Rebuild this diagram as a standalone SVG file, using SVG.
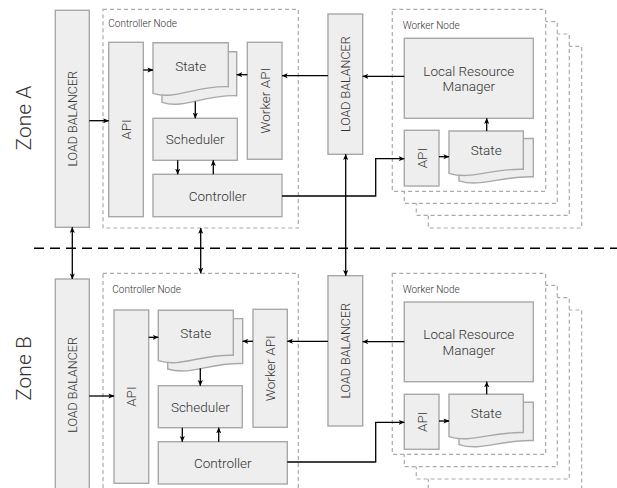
<svg xmlns="http://www.w3.org/2000/svg" width="617" height="488" viewBox="0 0 617 488">
<defs>
<style>
.box{fill:#eeeeee;stroke:#a8a8a8;stroke-width:1.4}
.grp{fill:#ffffff;stroke:#aaaaaa;stroke-width:1.2;stroke-dasharray:4 3}
.t{font-family:Roboto,"Liberation Sans",sans-serif;font-weight:300;fill:#333333;font-size:13.5px;text-anchor:middle;dominant-baseline:central}
.lb{font-size:12.5px}
.small{font-family:Roboto,"Liberation Sans",sans-serif;font-weight:300;fill:#333333;font-size:10px}
.zone{font-family:Roboto,"Liberation Sans",sans-serif;font-weight:300;fill:#333333;font-size:21px;text-anchor:middle;dominant-baseline:central}
.c{fill:none;stroke:#000000;stroke-width:1.3}
.a{marker-end:url(#ah)}
.b{marker-start:url(#ah);marker-end:url(#ah)}
</style>
<marker id="ah" viewBox="0 0 8 8" refX="7.5" refY="4" markerWidth="6" markerHeight="6" markerUnits="userSpaceOnUse" orient="auto-start-reverse">
<path d="M0,0.6 L8,4 L0,7.4 L2,4 z" fill="#000000"/>
</marker>
</defs>
<rect width="617" height="488" fill="#ffffff"/>

<!-- zone labels -->
<text class="zone" transform="translate(24,118) rotate(-90)">Zone A</text>
<text class="zone" transform="translate(24,368.5) rotate(-90)">Zone B</text>

<!-- zone divider -->
<line x1="34" y1="248.3" x2="617" y2="248.3" stroke="#000000" stroke-width="1.5" stroke-dasharray="10 6"/>

<!-- ===== Zone A ===== -->
<g id="lbA">
<rect class="box" x="55.3" y="10.3" width="34" height="217"/>
<text class="t lb" transform="translate(72.3,118.8) rotate(-90)">LOAD BALANCER</text>
</g>
<g id="ctrlNodeA">
<rect class="grp" x="103" y="9.3" width="195.3" height="218.7"/>
<text class="small" x="108.3" y="26.5">Controller Node</text>
</g>
<g id="apiA">
<rect class="box" x="108.7" y="42.3" width="34.6" height="174.4"/>
<text class="t" transform="translate(126,129.5) rotate(-90)">API</text>
</g>
<g id="stateA">
<path class="box" d="M162,51.7 H236.7 V95.7 C203.1,94.7 184.4,109.3 162,102.3 Z"/>
<path class="box" d="M153,42.7 H228.3 V86.7 C194.4,85.7 175.6,100.3 153,93.3 Z"/>
<text class="t" x="190.7" y="65.5">State</text>
</g>
<g id="schedA">
<rect class="box" x="153" y="118.3" width="84.3" height="42"/>
<text class="t" x="195.2" y="139.3">Scheduler</text>
</g>
<g id="workerApiA">
<rect class="box" x="247.3" y="42.3" width="34.7" height="117"/>
<text class="t" transform="translate(264.7,100.8) rotate(-90)">Worker API</text>
</g>
<g id="controllerA">
<rect class="box" x="153" y="174.3" width="129" height="42.4"/>
<text class="t" x="217.5" y="195.5">Controller</text>
</g>
<g id="lbMidA">
<rect class="box" x="328" y="14" width="34.7" height="140.3"/>
<text class="t lb" transform="translate(345.3,84.2) rotate(-90)">LOAD BALANCER</text>
</g>
<g id="workerNodeA">
<rect class="grp" x="428.3" y="46.3" width="153.4" height="181.7"/>
<rect class="grp" x="416.3" y="34" width="153" height="181.3"/>
<rect class="grp" x="404.3" y="21.7" width="153" height="181.6"/>
<rect class="grp" x="392.3" y="9.3" width="153.4" height="182"/>
<text class="small" x="402.7" y="29">Worker Node</text>
</g>
<g id="lrmA">
<rect class="box" x="404.3" y="38.3" width="129" height="80"/>
<text class="t" x="468.8" y="70.5">Local Resource</text>
<text class="t" x="468.8" y="86">Manager</text>
</g>
<g id="wApiA">
<rect class="box" x="404.3" y="130.3" width="34.7" height="55.7"/>
<text class="t" transform="translate(421.7,158.2) rotate(-90)">API</text>
</g>
<g id="wStateA">
<path class="box" d="M459,138.5 H533.3 V176.8 C499.9,175.8 481.3,187.8 459,180.8 Z"/>
<path class="box" d="M449,131 H523.3 V169.3 C489.9,168.3 471.3,180.3 449,173.3 Z"/>
<text class="t" x="486.2" y="149.8">State</text>
</g>

<!-- ===== Zone B ===== -->
<g id="lbB">
<rect class="box" x="55.3" y="279" width="34" height="212"/>
<text class="t lb" transform="translate(72.3,385) rotate(-90)">LOAD BALANCER</text>
</g>
<g id="ctrlNodeB">
<rect class="grp" x="103" y="273.3" width="195.3" height="220"/>
<text class="small" x="112.3" y="292.8">Controller Node</text>
</g>
<g id="apiB">
<rect class="box" x="114" y="310" width="34.7" height="173.3"/>
<text class="t" transform="translate(131.3,396.7) rotate(-90)">API</text>
</g>
<g id="stateB">
<path class="box" d="M167.7,318.6 H242.7 V363.6 C209,362.6 190.2,376 167.7,369 Z"/>
<path class="box" d="M158.3,310.3 H233.3 V355.3 C199.6,354.3 180.8,367.7 158.3,360.7 Z"/>
<text class="t" x="195.8" y="333">State</text>
</g>
<g id="schedB">
<rect class="box" x="158.3" y="385.7" width="84" height="42"/>
<text class="t" x="200.3" y="406.7">Scheduler</text>
</g>
<g id="workerApiB">
<rect class="box" x="253" y="309.3" width="34.3" height="118"/>
<text class="t" transform="translate(270.2,368.3) rotate(-90)">Worker API</text>
</g>
<g id="controllerB">
<rect class="box" x="158.3" y="441.7" width="129" height="42.3"/>
<text class="t" x="222.8" y="462.8">Controller</text>
</g>
<g id="lbMidB">
<rect class="box" x="328" y="275.7" width="34.7" height="150.3"/>
<text class="t lb" transform="translate(345.3,350.8) rotate(-90)">LOAD BALANCER</text>
</g>
<g id="workerNodeB">
<rect class="grp" x="428.3" y="310" width="153.4" height="181"/>
<rect class="grp" x="416.3" y="297.7" width="153" height="181.3"/>
<rect class="grp" x="404.3" y="285.3" width="153" height="181.4"/>
<rect class="grp" x="392.3" y="273.3" width="153.4" height="181"/>
<text class="small" x="402.7" y="292.8">Worker Node</text>
</g>
<g id="lrmB">
<rect class="box" x="404.3" y="302" width="129" height="79.7"/>
<text class="t" x="468.8" y="334.2">Local Resource</text>
<text class="t" x="468.8" y="349.7">Manager</text>
</g>
<g id="wApiB">
<rect class="box" x="404.3" y="394.3" width="34.7" height="55"/>
<text class="t" transform="translate(421.7,421.8) rotate(-90)">API</text>
</g>
<g id="wStateB">
<path class="box" d="M459,402.3 H533.3 V440.6 C499.9,439.6 481.3,451.6 459,444.6 Z"/>
<path class="box" d="M449,394.3 H523.3 V432.6 C489.9,431.6 471.3,443.6 449,436.6 Z"/>
<text class="t" x="486.2" y="413">State</text>
</g>

<!-- ===== Connectors ===== -->
<g id="connectors">
<!-- zone A -->
<path class="c a" d="M89.3,120.7 H108.7"/>
<path class="c a" d="M143.3,70 H153"/>
<path class="c a" d="M247.3,74.7 H236.7"/>
<path class="c a" d="M195.3,101.5 V118.3"/>
<path class="c a" d="M177.7,160.3 V174.3"/>
<path class="c a" d="M213.3,174.3 V160.3"/>
<path class="c a" d="M328,75.7 H282"/>
<path class="c a" d="M404.3,76.3 H362.7"/>
<path class="c a" d="M282,196 H375.7 V158.7 H404.3"/>
<path class="c a" d="M439,156.7 H449"/>
<path class="c a" d="M486.7,131 V118.3"/>
<!-- between zones -->
<path class="c b" d="M72.3,227.3 V279"/>
<path class="c b" d="M200.7,228 V273.3"/>
<path class="c b" d="M345.7,154.3 V275.7"/>
<!-- zone B -->
<path class="c a" d="M89.3,396 H114"/>
<path class="c a" d="M148.7,337.3 H158.3"/>
<path class="c a" d="M253,341.3 H242.7"/>
<path class="c a" d="M200.3,368.3 V385.7"/>
<path class="c a" d="M182.3,427.7 V441.7"/>
<path class="c a" d="M218.7,441.7 V427.7"/>
<path class="c a" d="M328,341.3 H287.3"/>
<path class="c a" d="M404.3,341.7 H362.7"/>
<path class="c a" d="M287.3,462 H375.7 V422.3 H404.3"/>
<path class="c a" d="M439,421 H449"/>
<path class="c a" d="M486.7,394.3 V381.7"/>
</g>
</svg>
